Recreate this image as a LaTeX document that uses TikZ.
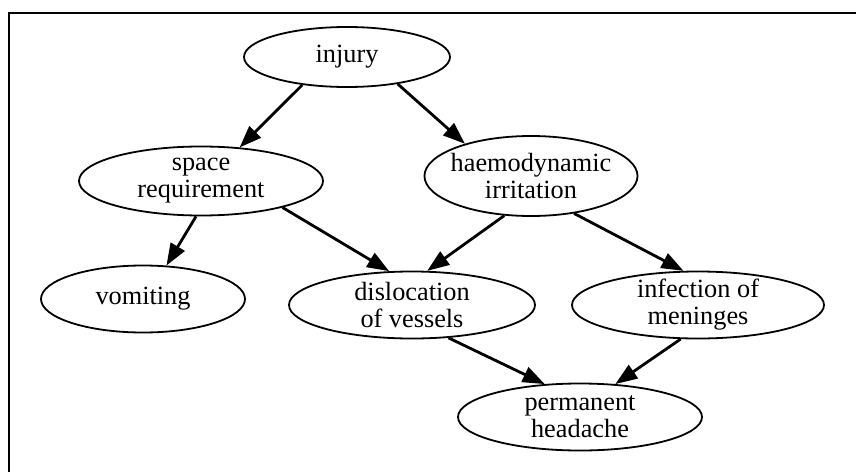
\documentclass[tikz,border=0pt]{standalone}
\usepackage{fontspec}
\usepackage{tikz}
\usetikzlibrary{arrows.meta, shapes}
\newfontfamily\eventfont{Liberation Serif}

\begin{document}
\begin{tikzpicture}[
    x=1pt, y=-1pt,
    event/.style={draw, ellipse, line width=1.8pt, inner sep=-5pt, align=center,
        font=\eventfont\fontsize{26.3}{27}\selectfont},
    cause/.style={-{Triangle[length=22pt, width=16pt]}, line width=2.8pt}
]
\useasboundingbox (0,0) rectangle (856,471);
\draw[line width=2pt] (9,480) -- (9,13) -- (870,13);

\node [event, minimum width=206pt, minimum height=60pt] (injury) at (347,57) {injury};
\node [event, minimum width=244pt, minimum height=69pt] (space) at (201,181) {space\\requirement};
\node [event, minimum width=211pt, minimum height=80pt] (haemo) at (531,176) {haemodynamic\\irritation};
\node [event, minimum width=204pt, minimum height=67pt] (vomit) at (143,299) {vomiting};
\node [event, minimum width=246pt, minimum height=67pt] (disloc) at (412,305) {dislocation\\of vessels};
\node [event, minimum width=252pt, minimum height=67pt] (infect) at (698,305) {infection of\\meninges};
\node [event, minimum width=244pt, minimum height=67pt] (headache) at (580,417) {permanent\\headache};

\draw[cause] (injury.212) -- (space.41);
\draw[cause] (injury.-28) -- (haemo.154);
\draw[cause] (space.-98) -- (vomit.55);
\draw[cause] (space.-18) -- (disloc.124);
\draw[cause] (haemo.-124) -- (disloc.66);
\draw[cause] (haemo.-41) -- (infect.113);
\draw[cause] (disloc.-42) -- (headache.137);
\draw[cause] (infect.-117) -- (headache.43);
\end{tikzpicture}
\end{document}
